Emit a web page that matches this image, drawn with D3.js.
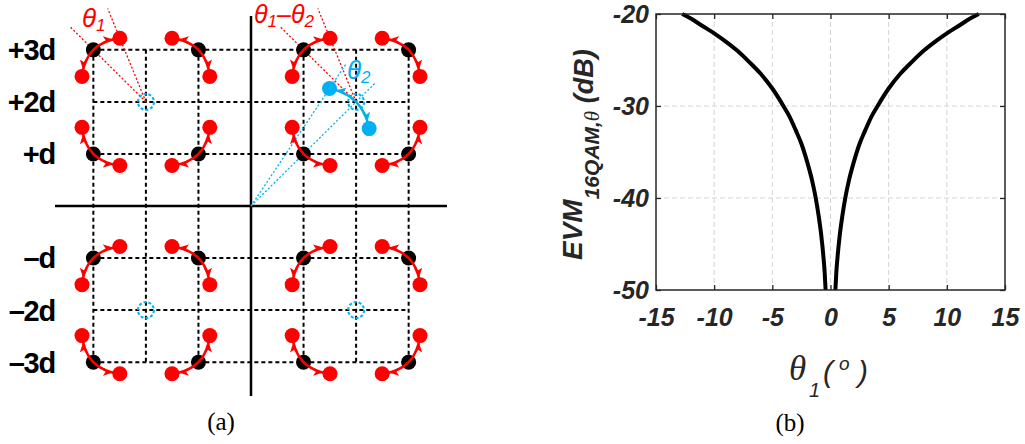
<!DOCTYPE html>
<html>
<head>
<meta charset="utf-8">
<script src="https://cdn.jsdelivr.net/npm/d3@7"></script>
<style>
  body { margin: 0; background: #fff; }
  svg { display: block; }
</style>
</head>
<body>
<div class="canvas"></div>
<script>
// ---------- data ----------
// (a) 16QAM constellation, in units of d
const levels = [-3, -1, 1, 3];
const gridLevels = [-3, -2, -1, 1, 2, 3];
const rowTicks = [3, 2, 1, -1, -2, -3];
const rowLabels = ['+3d', '+2d', '+d', '–d', '–2d', '–3d'];
const quadCenters = [[-2, 2], [2, 2], [-2, -2], [2, -2]];
const theta1 = 23;    // deg, rotation about the quadrant centre
const theta2 = 11.5;  // deg, rotation of the quadrant centre about the origin

// (b) EVM vs theta1
const thetaLeft = [-12.75, -12, -11, -10, -9, -8, -7, -6, -5, -4, -3.5, -3, -2.5, -2, -1.6, -1.3, -1, -0.8, -0.6, -0.5, -0.42];
const evmLeft   = [-20.0, -20.5, -21.3, -22.1, -23.0, -24.0, -25.2, -26.5, -28.1, -30.1, -31.2, -32.6, -34.1, -36.1, -38.0, -39.8, -42.1, -44.0, -46.5, -48.1, -50.0];
const thetaRight = [0.42, 0.5, 0.6, 0.8, 1, 1.3, 1.6, 2, 2.5, 3, 3.5, 4, 5, 6, 7, 8, 9, 10, 11, 12, 12.75];
const evmRight   = [-50.0, -48.1, -46.5, -44.0, -42.1, -39.8, -38.0, -36.1, -34.1, -32.6, -31.2, -30.1, -28.1, -26.5, -25.2, -24.0, -23.0, -22.1, -21.3, -20.5, -20.0];
const xTicks = [-15, -10, -5, 0, 5, 10, 15];
const yTicks = [-20, -30, -40, -50];

const RED = '#ff0000';
const BLUE = '#00b0f0';

// main svg
const svg = d3.select('.canvas').append('svg')
    .attr('width', 1025)
    .attr('height', 444);

// arrow heads: tip stops at the edge of the dot the path ends in
const defs = svg.append('defs');
function addMarker(id, color) {
  defs.append('marker')
      .attr('id', id)
      .attr('viewBox', '0 0 10 10')
      .attr('refX', 18.5).attr('refY', 5)
      .attr('markerWidth', 9).attr('markerHeight', 9)
      .attr('markerUnits', 'userSpaceOnUse')
      .attr('orient', 'auto-start-reverse')
    .append('path')
      .attr('d', 'M0,0.5 L10,5 L0,9.5 L2.5,5 z')
      .attr('fill', color);
}
addMarker('arrRed', RED);
addMarker('arrBlue', BLUE);

// curved arrow from a to b passing through m
function bend(a, m, b) {
  const cx = 2 * m[0] - (a[0] + b[0]) / 2;
  const cy = 2 * m[1] - (a[1] + b[1]) / 2;
  return `M${a[0]},${a[1]} Q${cx},${cy} ${b[0]},${b[1]}`;
}

// ================= (a) =================
const xa = d3.scaleLinear().domain([-3.73, 3.73]).range([55, 447]);
const ya = d3.scaleLinear().domain([3.65, -3.65]).range([16, 396]);
const ga = svg.append('g');

// dashed grid
ga.selectAll('.hgrid').data(gridLevels).join('line')
    .attr('x1', xa(-3)).attr('x2', xa(3))
    .attr('y1', d => ya(d)).attr('y2', d => ya(d))
    .attr('stroke', '#000').attr('stroke-width', 2).attr('stroke-dasharray', '4,3');
ga.selectAll('.vgrid').data(gridLevels).join('line')
    .attr('y1', ya(3)).attr('y2', ya(-3))
    .attr('x1', d => xa(d)).attr('x2', d => xa(d))
    .attr('stroke', '#000').attr('stroke-width', 2).attr('stroke-dasharray', '4,3');

// main axes
ga.append('line')
    .attr('x1', xa(-3.73)).attr('x2', xa(3.73))
    .attr('y1', ya(0)).attr('y2', ya(0))
    .attr('stroke', '#000').attr('stroke-width', 2.5);
ga.append('line')
    .attr('x1', xa(0)).attr('x2', xa(0))
    .attr('y1', ya(3.65)).attr('y2', ya(-3.65))
    .attr('stroke', '#000').attr('stroke-width', 2.5);

// row labels
ga.selectAll('.rowlab').data(rowTicks).join('text')
    .attr('x', 55)
    .attr('y', d => ya(d))
    .attr('dy', '0.36em')
    .attr('text-anchor', 'end')
    .attr('font-family', 'Liberation Sans, Arial, sans-serif')
    .attr('font-weight', 'bold')
    .attr('font-size', 29)
    .attr('letter-spacing', -1.2)
    .text((d, i) => rowLabels[i]);

// ideal points, rotated copies and arrows
const ideal = [];
levels.forEach(i => levels.forEach(q => ideal.push([i, q])));
const t1 = theta1 * Math.PI / 180;
const t2 = theta2 * Math.PI / 180;
const shrink = 0.93;   // rotated points sit slightly inside the ideal radius

const rotated = [];
const arcs = [];
ideal.forEach(([i, q]) => {
  const cx = xa(Math.sign(i) * 2), cy = ya(Math.sign(q) * 2);
  const vx = xa(i) - cx, vy = ya(q) - cy;
  const r = Math.hypot(vx, vy) * shrink;
  const ang = Math.atan2(vy, vx);
  const a = [cx + r * Math.cos(ang + t1), cy + r * Math.sin(ang + t1)];
  const b = [cx + r * Math.cos(ang - t1), cy + r * Math.sin(ang - t1)];
  rotated.push(a, b);
  arcs.push(bend(a, [xa(i), ya(q)], b));
});

// red dotted construction lines in the two upper quadrants (theta1)
const constr = [];
[[-2, 2, -3, 3], [2, 2, 1, 3]].forEach(([ci, cq, pi, pq]) => {
  const cx = xa(ci), cy = ya(cq);
  const ang = Math.atan2(ya(pq) - cy, xa(pi) - cx);
  constr.push([cx, cy, cx + 106 * Math.cos(ang), cy + 106 * Math.sin(ang)]);
  constr.push([cx, cy, cx + 101 * Math.cos(ang + t1), cy + 101 * Math.sin(ang + t1)]);
});

// blue construction (theta2) in the upper right quadrant
const ox = xa(0), oy = ya(0);
const qx = xa(2) - ox, qy = ya(2) - oy;
const rq = Math.hypot(qx, qy) * 0.955;
const aq = Math.atan2(qy, qx);
const blueDots = [
  [ox + rq * Math.cos(aq - t2), oy + rq * Math.sin(aq - t2)],
  [ox + rq * Math.cos(aq + t2), oy + rq * Math.sin(aq + t2)]
];
const blueLines = [
  [ox, oy, ox + 176 * Math.cos(aq), oy + 176 * Math.sin(aq)],
  [ox, oy, ox + 172 * Math.cos(aq - t2), oy + 172 * Math.sin(aq - t2)]
];

ga.selectAll('.constr').data(constr).join('line')
    .attr('x1', d => d[0]).attr('y1', d => d[1])
    .attr('x2', d => d[2]).attr('y2', d => d[3])
    .attr('stroke', RED).attr('stroke-width', 1.3).attr('stroke-dasharray', '2,2');
ga.selectAll('.blueline').data(blueLines).join('line')
    .attr('x1', d => d[0]).attr('y1', d => d[1])
    .attr('x2', d => d[2]).attr('y2', d => d[3])
    .attr('stroke', BLUE).attr('stroke-width', 1.3).attr('stroke-dasharray', '2,2');

// quadrant centres (dashed blue circles)
ga.selectAll('.qc').data(quadCenters).join('circle')
    .attr('cx', d => xa(d[0])).attr('cy', d => ya(d[1]))
    .attr('r', 8)
    .attr('fill', 'none')
    .attr('stroke', BLUE).attr('stroke-width', 2).attr('stroke-dasharray', '3,2');

// ideal points
ga.selectAll('.ideal').data(ideal).join('circle')
    .attr('cx', d => xa(d[0])).attr('cy', d => ya(d[1]))
    .attr('r', 7.5).attr('fill', '#000');

// double arrows
ga.selectAll('.arc').data(arcs).join('path')
    .attr('d', d => d)
    .attr('fill', 'none')
    .attr('stroke', RED).attr('stroke-width', 2.5)
    .attr('marker-start', 'url(#arrRed)')
    .attr('marker-end', 'url(#arrRed)');

// rotated points
ga.selectAll('.rot').data(rotated).join('circle')
    .attr('cx', d => d[0]).attr('cy', d => d[1])
    .attr('r', 7.5).attr('fill', RED);

// blue arrow + dots
ga.append('path')
    .attr('d', bend(blueDots[0], [xa(2), ya(2)], blueDots[1]))
    .attr('fill', 'none')
    .attr('stroke', BLUE).attr('stroke-width', 2.5)
    .attr('marker-start', 'url(#arrBlue)')
    .attr('marker-end', 'url(#arrBlue)');
ga.selectAll('.bdot').data(blueDots).join('circle')
    .attr('cx', d => d[0]).attr('cy', d => d[1])
    .attr('r', 7.5).attr('fill', BLUE);

// angle labels
function angleLabel(x, y, color, parts) {
  const t = ga.append('text')
      .attr('x', x).attr('y', y)
      .attr('fill', color)
      .attr('font-family', 'Liberation Sans, Arial, sans-serif')
      .attr('font-style', 'italic');
  parts.forEach(([s, size, dy]) => {
    t.append('tspan').attr('font-size', size).attr('dy', dy).text(s);
  });
}
angleLabel(82, 27, RED, [['θ', 26, 0], ['1', 17, 4]]);
angleLabel(254, 23, RED, [['θ', 25, 0], ['1', 17, 4], ['–', 25, -4], ['θ', 25, 0], ['2', 17, 4]]);
angleLabel(347, 79, BLUE, [['θ', 26, 0], ['2', 17, 4]]);

// caption (a)
svg.append('text')
    .attr('x', 221).attr('y', 430)
    .attr('text-anchor', 'middle')
    .attr('font-family', 'Liberation Serif, DejaVu Serif, serif')
    .attr('font-size', 25)
    .text('(a)');

// ================= (b) =================
const xb = d3.scaleLinear().domain([-15, 15]).range([656, 1005]);
const yb = d3.scaleLinear().domain([-50, -20]).range([290, 14]);
const gb = svg.append('g');

// grid
gb.selectAll('.xg').data(xTicks.slice(1, -1)).join('line')
    .attr('x1', d => xb(d)).attr('x2', d => xb(d))
    .attr('y1', yb(-20)).attr('y2', yb(-50))
    .attr('stroke', '#d4d4d4').attr('stroke-width', 1).attr('stroke-dasharray', '5,3');
gb.selectAll('.yg').data(yTicks.slice(1, -1)).join('line')
    .attr('y1', d => yb(d)).attr('y2', d => yb(d))
    .attr('x1', xb(-15)).attr('x2', xb(15))
    .attr('stroke', '#d4d4d4').attr('stroke-width', 1).attr('stroke-dasharray', '5,3');

// curve
const line = d3.line()
    .x(d => xb(d[0]))
    .y(d => yb(d[1]))
    .curve(d3.curveMonotoneX);
gb.append('path')
    .attr('d', line(thetaLeft.map((t, i) => [t, evmLeft[i]])))
    .attr('fill', 'none').attr('stroke', '#000').attr('stroke-width', 4);
gb.append('path')
    .attr('d', line(thetaRight.map((t, i) => [t, evmRight[i]])))
    .attr('fill', 'none').attr('stroke', '#000').attr('stroke-width', 4);

// axes
const tickFont = g => g.selectAll('text')
    .attr('font-family', 'Liberation Sans, Arial, sans-serif')
    .attr('font-weight', 'bold')
    .attr('font-style', 'italic')
    .attr('font-size', 25)
    .attr('fill', '#262626');

const xAxis = d3.axisBottom(xb).tickValues(xTicks).tickSize(-5).tickSizeOuter(0).tickFormat(d => String(d));
const yAxis = d3.axisLeft(yb).tickValues(yTicks).tickSize(-5).tickSizeOuter(0).tickFormat(d => String(d));
const xTop = d3.axisTop(xb).tickValues(xTicks).tickSize(-5).tickSizeOuter(0).tickFormat('');
const yRight = d3.axisRight(yb).tickValues(yTicks).tickSize(-5).tickSizeOuter(0).tickFormat('');

const xAxisGroup = gb.append('g').attr('transform', `translate(0, ${yb(-50)})`).call(xAxis);
const yAxisGroup = gb.append('g').attr('transform', `translate(${xb(-15)}, 0)`).call(yAxis);
gb.append('g').attr('transform', `translate(0, ${yb(-20)})`).call(xTop);
gb.append('g').attr('transform', `translate(${xb(15)}, 0)`).call(yRight);
gb.selectAll('.domain').remove();
gb.selectAll('.tick line').attr('stroke', '#262626').attr('stroke-width', 1.3);

xAxisGroup.call(tickFont);
xAxisGroup.selectAll('text').attr('y', 36).attr('dy', null);
yAxisGroup.call(tickFont);
yAxisGroup.selectAll('text').attr('x', -7).attr('dy', '0.34em');

// box
gb.append('rect')
    .attr('x', xb(-15)).attr('y', yb(-20))
    .attr('width', xb(15) - xb(-15)).attr('height', yb(-50) - yb(-20))
    .attr('fill', 'none').attr('stroke', '#262626').attr('stroke-width', 1.5);

// x label: theta_1 (°), pieces placed one by one
const sans = 'Liberation Sans, Arial, sans-serif';
const xLabelParts = [
  ['θ', 789, 380, 35, 'Liberation Serif, DejaVu Serif, serif'],
  ['1', 809, 397, 20, sans],
  ['(', 823, 382, 30, sans],
  ['o', 839, 370, 19, sans],
  [')', 858, 382, 30, sans]
];
gb.selectAll('.xlab').data(xLabelParts).join('text')
    .attr('x', d => d[1]).attr('y', d => d[2])
    .attr('font-size', d => d[3])
    .attr('font-family', d => d[4])
    .attr('font-style', 'italic')
    .attr('fill', '#262626')
    .text(d => d[0]);

// y label: EVM_{16QAM,theta} (dB)
const yl = gb.append('text')
    .attr('transform', 'translate(582, 260) rotate(-90)')
    .attr('fill', '#262626')
    .attr('font-family', sans)
    .attr('font-weight', 'bold')
    .attr('font-style', 'italic');
yl.append('tspan').attr('font-size', 28).text('EVM');
yl.append('tspan').attr('font-size', 21).attr('dy', 17).text('16QAM,');
yl.append('tspan').attr('font-size', 21).attr('font-weight', 'normal').attr('font-family', 'Liberation Serif, serif').text('θ');
yl.append('tspan').attr('font-size', 27).attr('dy', -6).text(' (dB)');

// caption (b)
svg.append('text')
    .attr('x', 790).attr('y', 431)
    .attr('text-anchor', 'middle')
    .attr('font-family', 'Liberation Serif, DejaVu Serif, serif')
    .attr('font-size', 25)
    .text('(b)');
</script>
</body>
</html>
